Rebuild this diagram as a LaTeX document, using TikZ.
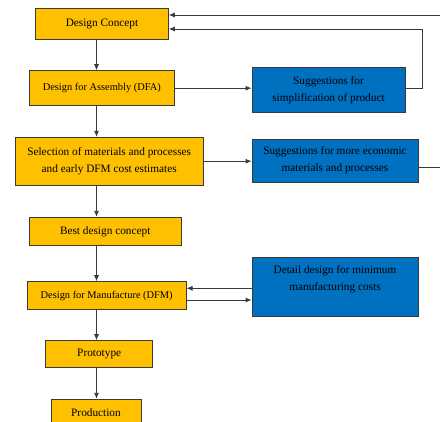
\documentclass[tikz,border=0pt]{standalone}
\usepackage{fontspec}
\setmainfont{Liberation Serif}
\usetikzlibrary{arrows.meta}

\definecolor{dfmyellow}{HTML}{FFC000}
\definecolor{dfmblue}{HTML}{0070C0}
\definecolor{dfmline}{HTML}{3A3A3A}

\begin{document}
\begin{tikzpicture}[x=1pt,y=-1pt,
  ybox/.style={draw=dfmline,line width=0.9pt,fill=dfmyellow,inner sep=0pt,align=center,
    font=\fontsize{11.3}{17}\selectfont},
  bbox/.style={draw=dfmline,line width=0.9pt,fill=dfmblue,inner sep=0pt,align=center,
    font=\fontsize{11.3}{17}\selectfont},
  arr/.style={draw=dfmline,line width=0.9pt,-{Latex[length=6pt,width=5pt]}},
  ln/.style={draw=dfmline,line width=0.9pt}]
\useasboundingbox (0,0) rectangle (440,422);

% left column
\node[ybox,minimum width=132.6,minimum height=31] (dc) at (102,23.8) {Design Concept};
\node[ybox,minimum width=145,minimum height=35,font=\fontsize{10.4}{17}\selectfont] (dfa) at (101.8,88.2) {Design for Assembly (DFA)};
\node[ybox,minimum width=188.3,minimum height=47.7] (sel) at (109.2,161.2) {Selection of materials and processes\\and early DFM cost estimates};
\node[ybox,minimum width=151.7,minimum height=28.4] (best) at (105.2,231.5) {Best design concept};
\node[ybox,minimum width=158.7,minimum height=27.6,font=\fontsize{10.4}{17}\selectfont] (dfm) at (106.7,295.5) {Design for Manufacture (DFM)};
\node[ybox,minimum width=107,minimum height=26.6] (proto) at (99.2,354) {Prototype};
\node[ybox,minimum width=90,minimum height=27] (prod) at (96,412.8) {Production};

% right column
\node[bbox,minimum width=153,minimum height=44.6] (simp) at (328.5,90) {Suggestions for\\simplification of product};
\node[bbox,minimum width=166,minimum height=43.3] (econ) at (335,160.7) {Suggestions for more economic\\materials and processes};
\node[bbox,minimum width=166,minimum height=59] (det) at (335,287.2) {};
\node[align=center,inner sep=0pt,font=\fontsize{11.3}{17}\selectfont] (dettxt) at (335,279) {Detail design for minimum\\manufacturing costs};

\coordinate (spine) at (96.5,0);
\coordinate (ret1) at (422,29);
\coordinate (ret2) at (440,15);
\coordinate (out2) at (440,167.3);

% downward flow
\draw[arr] (dc.south -| spine) -- (dfa.north -| spine);
\draw[arr] (dfa.south -| spine) -- (sel.north -| spine);
\draw[arr] (sel.south -| spine) -- (best.north -| spine);
\draw[arr] (best.south -| spine) -- (dfm.north -| spine);
\draw[arr] (dfm.south -| spine) -- (proto.north -| spine);
\draw[arr] (proto.south -| spine) -- (prod.north -| spine);

% side loops
\draw[arr] (dfa.east) -- (dfa.east -| simp.west);
\draw[ln] ([yshift=2pt]simp.east) -| (ret1);
\draw[arr] (ret1) -- (ret1 -| dc.east);
\draw[arr] (ret2) -- (ret2 -| dc.east);
\draw[arr] (sel.east) -- (sel.east -| econ.west);
\draw[ln] (out2 -| econ.east) -- (out2);
\draw[arr] ([yshift=7.2pt]dfm.east -| det.west) -- ([yshift=7.2pt]dfm.east);
\draw[arr] ([yshift=-4.5pt]dfm.east) -- ([yshift=-4.5pt]dfm.east -| det.west);
\end{tikzpicture}
\end{document}
